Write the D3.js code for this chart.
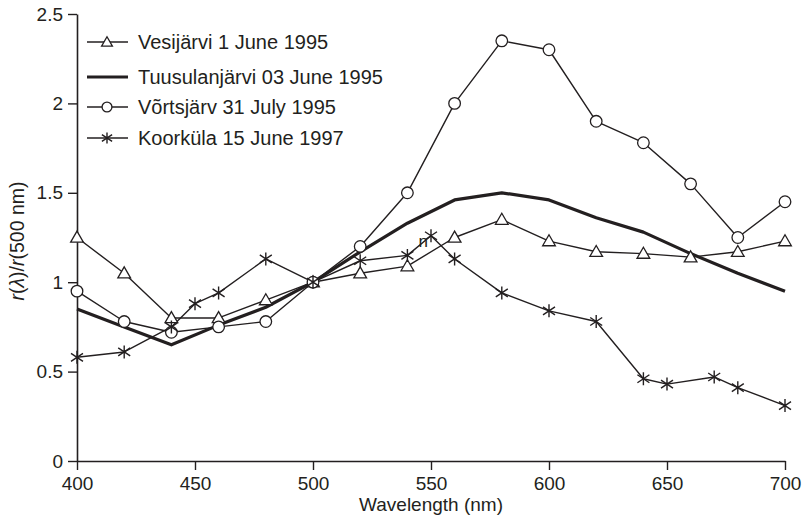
<!DOCTYPE html>
<html>
<head>
<meta charset="utf-8">
<script src="https://cdn.jsdelivr.net/npm/d3@7"></script>
<style>
  html, body { margin:0; padding:0; background:#fff; }
  svg { display:block; }
  text { font-family: "Liberation Sans", Arial, sans-serif; fill:#231f20; }
</style>
</head>
<body>
<div id="chart"></div>
<script>
// spectral ratio chart, r(lambda)/r(500 nm) for four lakes

const wlMain = [400,420,440,460,480,500,520,540,560,580,600,620,640,660,680,700];
const wlKoor = [400,420,440,450,460,480,500,520,540,550,560,580,600,620,640,650,670,680,700];

const vesijarvi  = [1.25,1.05,0.80,0.80,0.90,1.00,1.05,1.09,1.25,1.35,1.23,1.17,1.16,1.14,1.17,1.23];
const tuusulan   = [0.85,0.75,0.65,0.76,0.86,1.00,1.17,1.33,1.46,1.50,1.46,1.36,1.28,1.16,1.05,0.95];
const vortsjarv  = [0.95,0.78,0.72,0.75,0.78,1.00,1.20,1.50,2.00,2.35,2.30,1.90,1.78,1.55,1.25,1.45];
const koorkula   = [0.58,0.61,0.75,0.88,0.94,1.13,1.00,1.12,1.15,1.26,1.13,0.94,0.84,0.78,0.46,0.43,0.47,0.41,0.31];

const xTicks = [400,450,500,550,600,650,700];
const yTicks = [0,0.5,1,1.5,2,2.5];

const SERIES = [
  { label:"Vesijärvi 1 June 1995",     x:wlMain, y:vesijarvi, marker:"triangle", width:1.4 },
  { label:"Tuusulanjärvi 03 June 1995", x:wlMain, y:tuusulan,  marker:"none",     width:3.2 },
  { label:"Võrtsjärv 31 July 1995",    x:wlMain, y:vortsjarv, marker:"circle",   width:1.4 },
  { label:"Koorküla 15 June 1997",     x:wlKoor, y:koorkula,  marker:"star",     width:1.4 },
];

const INK = "#231f20";
const W = 812, H = 518;
const margin = { top:14, right:27, bottom:57, left:77 };
const iw = W - margin.left - margin.right;
const ih = H - margin.top - margin.bottom;

const svg = d3.select("#chart").append("svg").attr("width",W).attr("height",H);
const g = svg.append("g").attr("transform",`translate(${margin.left},${margin.top})`);

const x = d3.scaleLinear().domain([400,700]).range([0,iw]);
const y = d3.scaleLinear().domain([0,2.5]).range([ih,0]);

const AX = sel => sel
  .call(a=>a.select(".domain").attr("stroke",INK).attr("stroke-width",1.6))
  .call(a=>a.selectAll(".tick line").attr("stroke",INK).attr("stroke-width",1.4))
  .call(a=>a.selectAll("text").attr("fill",INK)
    .style("font-family","'Liberation Sans', Arial, sans-serif").style("font-size","19px"));

g.append("g").attr("transform",`translate(0,${ih})`)
  .call(d3.axisBottom(x).tickValues(xTicks).tickFormat(d3.format("d")).tickSize(9).tickSizeOuter(0).tickPadding(7))
  .call(AX);

g.append("g")
  .call(d3.axisLeft(y).tickValues(yTicks).tickFormat(d=>String(d)).tickSize(9).tickSizeOuter(0).tickPadding(5))
  .call(AX);

// axis titles
svg.append("text").attr("x",margin.left+iw/2).attr("y",511)
  .attr("text-anchor","middle").style("font-size","19px").text("Wavelength (nm)");

const yt = svg.append("text")
  .attr("transform",`translate(24,241) rotate(-90)`)
  .attr("text-anchor","middle").style("font-size","19.5px");
yt.append("tspan").style("font-style","italic").text("r");
yt.append("tspan").text("(");
yt.append("tspan").style("font-style","italic").text("λ");
yt.append("tspan").text(")/");
yt.append("tspan").style("font-style","italic").text("r");
yt.append("tspan").text("(500 nm)");

// markers
function drawMarker(sel, type, k){
  k = k || 1;
  if(type==="circle"){
    sel.append("circle").attr("r",5.8*k).attr("fill","#fff").attr("stroke",INK).attr("stroke-width",1.3);
  } else if(type==="triangle"){
    sel.append("path").attr("d",d3.symbol(d3.symbolTriangle,70*k*k)())
      .attr("transform","translate(0,1)")
      .attr("fill","#fff").attr("stroke",INK).attr("stroke-width",1.3);
  } else if(type==="star"){
    sel.append("path").attr("d",`M0,${-6.5*k}L0,${6.5*k}M${-6*k},${-4*k}L${6*k},${4*k}M${-6*k},${4*k}L${6*k},${-4*k}`)
      .attr("fill","none").attr("stroke",INK).attr("stroke-width",1.4);
  }
}

const line = d3.line().x(d=>x(d[0])).y(d=>y(d[1]));

SERIES.forEach(s=>{
  const pts = s.x.map((w,i)=>[w,s.y[i]]);
  g.append("path").datum(pts).attr("d",line)
    .attr("fill","none").attr("stroke",INK).attr("stroke-width",s.width)
    .attr("stroke-linejoin","round");
});

SERIES.forEach(s=>{
  if(s.marker==="none") return;
  const pts = s.x.map((w,i)=>[w,s.y[i]]);
  g.append("g").selectAll("g").data(pts).join("g")
    .attr("transform",d=>`translate(${x(d[0])},${y(d[1])})`)
    .each(function(){ drawMarker(d3.select(this), s.marker); });
});

// stray glyph in the original
g.append("text").attr("x",x(546)-3).attr("y",y(1.26)+11)
  .attr("fill","#777").style("font-size","17px").text("n");

// legend
const legRows = [42,77,107,138];
const leg = svg.append("g");
SERIES.forEach((s,i)=>{
  const r = leg.append("g").attr("transform",`translate(0,${legRows[i]})`);
  r.append("line").attr("x1",87).attr("x2",128).attr("y1",0).attr("y2",0)
    .attr("stroke",INK).attr("stroke-width",s.width);
  drawMarker(r.append("g").attr("transform","translate(107,0)"), s.marker, 0.85);
  r.append("text").attr("x",138).attr("y",7).style("font-size","20px").text(s.label);
});
</script>
</body>
</html>
